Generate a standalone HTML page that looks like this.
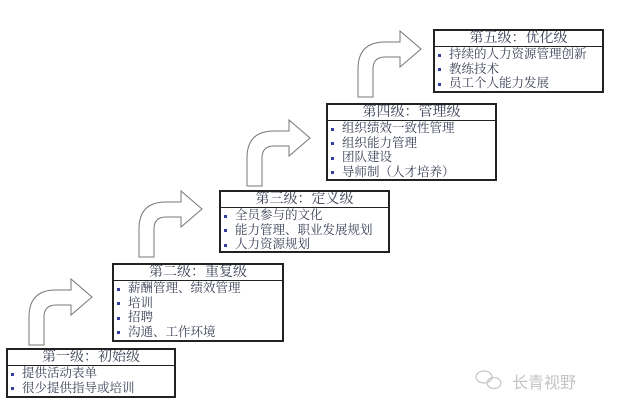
<!DOCTYPE html>
<html><head><meta charset="utf-8">
<style>
html,body{margin:0;padding:0;background:#fff;}
body{width:619px;height:403px;position:relative;overflow:hidden;font-family:"Liberation Serif","Noto Serif CJK SC",serif;}
.box{position:absolute;border:2px solid #222;box-sizing:border-box;background:#fff;overflow:hidden;}
.t{border-bottom:1.5px solid #222;text-align:center;font-size:14px;color:#3a3f55;line-height:15px;height:15px;}
.i{font-size:12.5px;color:#3a3f55;line-height:14.5px;padding-left:3px;white-space:nowrap;}
.i:before{content:"";display:inline-block;width:3px;height:3px;background:#3040a0;margin-right:8px;vertical-align:middle;}
svg{position:absolute;left:0;top:0;}
.wm{position:absolute;left:512px;top:369px;font-family:"Liberation Sans","Noto Sans CJK SC",sans-serif;font-size:16px;color:#c4c4c4;}
</style></head><body>
<svg width="619" height="403">
<defs><path id="ar" d="M0,0 L0,-28 Q0,-55 27,-55 L42,-55 L42,-66 L63,-48 L42,-30 L42,-40 L27,-40 Q15,-40 15,-28 L15,0 Z" fill="#fff" stroke="#777" stroke-width="1"/></defs>
<use href="#ar" x="29" y="345"/>
<use href="#ar" x="139" y="257"/>
<use href="#ar" x="247" y="186"/>
<use href="#ar" x="358" y="97"/>
<g fill="none" stroke="#c8c8c8" stroke-width="1.3">
<ellipse cx="484" cy="377" rx="8" ry="6"/>
<ellipse cx="494" cy="383" rx="7" ry="5.5"/>
</g>
</svg>
<div class="box" style="left:6px;top:348px;width:170px;height:50px;">
<div class="t">第一级：初始级</div>
<div class="i">提供活动表单</div>
<div class="i">很少提供指导或培训</div>
</div>
<div class="box" style="left:112px;top:263px;width:172px;height:79px;">
<div class="t">第二级：重复级</div>
<div class="i">薪酬管理、绩效管理</div>
<div class="i">培训</div>
<div class="i">招聘</div>
<div class="i">沟通、工作环境</div>
</div>
<div class="box" style="left:219px;top:190px;width:171px;height:63px;">
<div class="t">第三级：定义级</div>
<div class="i">全员参与的文化</div>
<div class="i">能力管理、职业发展规划</div>
<div class="i">人力资源规划</div>
</div>
<div class="box" style="left:326px;top:103px;width:171px;height:78px;">
<div class="t">第四级：管理级</div>
<div class="i">组织绩效一致性管理</div>
<div class="i">组织能力管理</div>
<div class="i">团队建设</div>
<div class="i">导师制（人才培养）</div>
</div>
<div class="box" style="left:433px;top:29px;width:171px;height:64px;">
<div class="t">第五级：优化级</div>
<div class="i">持续的人力资源管理创新</div>
<div class="i">教练技术</div>
<div class="i">员工个人能力发展</div>
</div>
<div class="wm">长青视野</div>
</body></html>
